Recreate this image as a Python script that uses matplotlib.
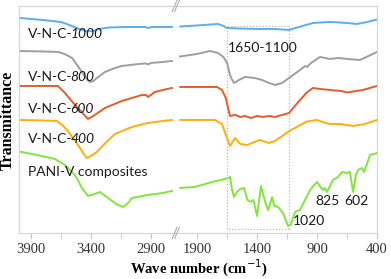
import matplotlib.pyplot as plt
from matplotlib.patches import Rectangle

# wavenumbers (cm-1) and transmittance (arbitrary units, offset)
# left part of the broken axis (4000-2700), right part (2050-400)
w1000_a = [4000, 3800, 3650, 3580, 3500, 3430, 3380, 3330, 3250, 3100, 2950, 2920, 2890, 2850, 2725]
t1000_a = [215, 213, 211, 208, 204, 201.5, 202, 204, 205.5, 206, 206, 205, 206, 206, 206]
w1000_b = [2040, 1900, 1725, 1680, 1650, 1550, 1400, 1250, 1133, 1050, 933, 792, 650, 567, 480, 400]
t1000_b = [206.5, 207.5, 209, 207, 205, 204.5, 204, 204, 203, 206, 210, 211, 210, 209, 211, 213.5]

w800_a = [4000, 3800, 3675, 3620, 3558, 3475, 3430, 3408, 3380, 3350, 3283, 3200, 3142, 3000, 2940, 2925, 2900, 2800, 2725]
t800_a = [182, 181.5, 181, 179, 175, 161, 153, 151, 152, 155, 161, 165, 167, 169, 169.5, 168.5, 170, 171, 172]
w800_b = [2042, 1900, 1792, 1725, 1680, 1650, 1620, 1592, 1550, 1500, 1420, 1358, 1300, 1250, 1190, 1133,
          1042, 1000, 983, 950, 875, 792, 720, 650, 542, 470, 400]
t800_b = [176.5, 179, 182, 180, 176, 170, 156, 150, 153, 156, 155, 153, 150, 148, 150, 155,
          163, 167, 166, 170, 176, 174, 175, 174, 173, 177, 181]

w600_a = [4000, 3800, 3675, 3617, 3533, 3470, 3425, 3380, 3283, 3142, 2975, 2940, 2925, 2900, 2867, 2800, 2725]
t600_a = [147, 147, 147, 140, 128, 120, 114, 117, 125, 132, 138, 138, 136, 138, 141, 143, 145]
w600_b = [2040, 1900, 1733, 1692, 1660, 1640, 1625, 1580, 1540, 1500, 1450, 1400, 1350, 1300, 1250,
          1190, 1133, 1042, 980, 933, 875, 792, 700, 650, 517, 400]
t600_b = [146, 146, 146, 143, 135, 124, 117, 118, 116, 117, 115, 117, 116, 117, 116,
          118, 120, 133, 141, 145, 144, 143, 142, 140.5, 143, 147]

w400_a = [4000, 3800, 3683, 3640, 3592, 3508, 3460, 3433, 3400, 3350, 3280, 3200, 3058, 2925, 2800, 2725]
t400_a = [113, 112.5, 112, 108, 102, 88, 79, 75, 77, 81, 90, 99, 106, 110, 112, 113]
w400_b = [2040, 1900, 1750, 1692, 1660, 1625, 1583, 1540, 1483, 1420, 1380, 1300, 1250, 1190, 1142,
          1100, 983, 900, 830, 792, 708, 600, 500, 400]
t400_b = [113, 113, 113, 109, 98, 87, 95, 89, 88, 91, 93, 90, 92, 97, 101,
          104, 111.5, 113, 110, 109, 109, 107, 109, 113]

wpani_a = [4000, 3850, 3700, 3617, 3533, 3475, 3425, 3370, 3325, 3258, 3190, 3133, 3090, 3058, 2925, 2800, 2725]
tpani_a = [81.5, 78, 74, 68, 58, 45, 37, 39, 41, 35, 29, 26, 30, 35, 38, 40, 42]
wpani_b = [2040, 1917, 1775, 1667, 1640, 1625, 1608, 1592, 1567, 1540, 1508, 1480, 1455, 1430, 1400,
           1367, 1330, 1308, 1275, 1255, 1225, 1183, 1142, 1120, 1083, 1042, 958, 900,
           865, 850, 835, 817, 767, 725, 692, 650, 625, 600, 575, 558, 525, 508, 458, 425, 400]
tpani_b = [45, 46, 51, 54, 55, 56, 43, 36, 41, 44, 45, 33, 31, 33, 17,
           47, 30, 23, 36, 27, 26, 20, 7, 8, 21, 23, 43, 51,
           45, 43, 45, 41, 53, 56, 61, 60, 61, 41, 58, 63, 65, 61, 78, 79, 80]

series = [
    (w1000_a, t1000_a, w1000_b, t1000_b, "#5aaef0"),
    (w800_a, t800_a, w800_b, t800_b, "#9e9e9e"),
    (w600_a, t600_a, w600_b, t600_b, "#e35d2a"),
    (w400_a, t400_a, w400_b, t400_b, "#ffad0a"),
    (wpani_a, tpani_a, wpani_b, tpani_b, "#80e63a"),
]

left_ticks = [3900, 3400, 2900]
left_minor = [3650, 3150]
right_ticks = [1900, 1400, 900, 400]
right_minor = [1650, 1150, 650]

fig = plt.figure(figsize=(3.91, 2.79), dpi=100)
ax1 = fig.add_axes([0.0486, 0.165, 0.404, 0.8136])
ax2 = fig.add_axes([0.4527, 0.165, 0.5115, 0.8136])

for wa, ta, wb, tb, c in series:
    ax1.plot(wa, ta, color=c, lw=1.4)
    ax2.plot(wb, tb, color=c, lw=1.4)

ax1.set_xlim(4000, 2683)
ax2.set_xlim(2067, 400)
ax1.set_xticks(left_ticks)
ax1.set_xticks(left_minor, minor=True)
ax2.set_xticks(right_ticks)
ax2.set_xticks(right_minor, minor=True)
for ax in (ax1, ax2):
    ax.set_ylim(0, 227)
    ax.set_yticks([])
    for s in ax.spines.values():
        s.set_color("#d4d4d4")
        s.set_linewidth(0.8)
    ax.tick_params(axis="x", which="both", direction="out", length=4, color="#c8c8c8",
                   labelsize=10.5, pad=3.5, labelcolor="#333333")
    for lab in ax.get_xticklabels():
        lab.set_family("Liberation Serif")
ax1.spines["right"].set_visible(False)
ax2.spines["left"].set_visible(False)

# break marks
for yb in (0, 1):
    for dx in (-0.012, 0.0):
        ax2.plot([dx - 0.012, dx + 0.012], [yb - 0.025, yb + 0.025], transform=ax2.transAxes,
                 color="#b0b0b0", lw=0.8, clip_on=False)

# dotted region box
ax2.add_patch(Rectangle((1130, 4), 1650 - 1130, 203, fill=False, ls=(0, (1, 1.5)),
                        ec="#b8b8b8", lw=0.9))

lab_font = dict(family="Lato", fontsize=10, color="#1a1a1a", va="center")
names = ["1000", "800", "600", "400"]
ypos = [199, 156, 124, 94]
for n, yv in zip(names, ypos):
    t = ax1.text(4000 - 75, yv, "V-N-C-", **lab_font)
    ax1.annotate(n, xy=(1, 0), xycoords=t, xytext=(-1.5, 0), textcoords="offset points",
                 va="bottom", ha="left", family="Lato", fontsize=10, style="italic",
                 color="#1a1a1a")
ax1.text(4000 - 75, 61, "PANI-V composites", **lab_font)

ax2.text(1640, 185, "1650-1100", **lab_font)
ax2.text(1100, 12, "1020", **lab_font)
ax2.text(910, 32, "825", **lab_font)
ax2.text(670, 32, "602", **lab_font)

fig.text(0.51, 0.0, "Wave number (cm$^{-1}$)", ha="center", va="bottom",
         family="Liberation Serif", fontweight="bold", fontsize=10.5)
fig.text(0.02, 0.57, "Transmittance", ha="center", va="center", rotation=90,
         family="Liberation Serif", fontweight="bold", fontsize=11.5)

fig.savefig("out.png", dpi=100)
